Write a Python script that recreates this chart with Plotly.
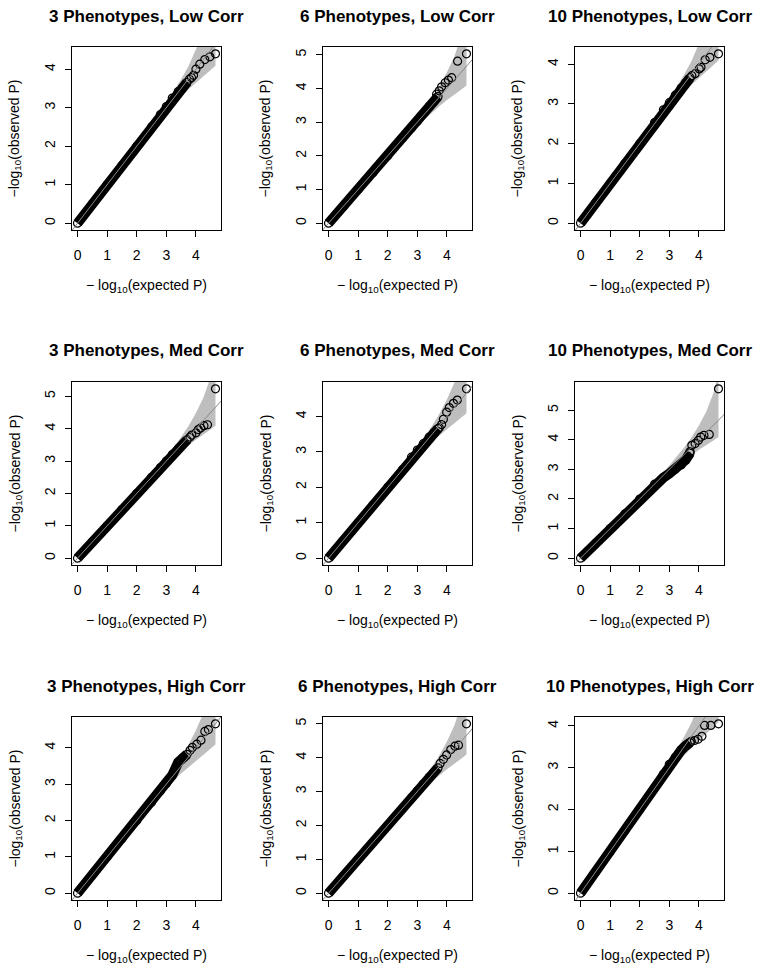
import plotly.graph_objects as go

# ---------------- data ----------------
TITLES = [
    "3 Phenotypes, Low Corr", "6 Phenotypes, Low Corr", "10 Phenotypes, Low Corr",
    "3 Phenotypes, Med Corr", "6 Phenotypes, Med Corr", "10 Phenotypes, Med Corr",
    "3 Phenotypes, High Corr", "6 Phenotypes, High Corr", "10 Phenotypes, High Corr",
]
X_TICKS = [0, 1, 2, 3, 4]

# dense body of each QQ plot (expected -log10 P) and observed values
BULK_X = [0, 0.5, 1.0, 1.5, 2.0, 2.5, 2.8, 3.0, 3.2, 3.4, 3.55, 3.7]
low3_bulk_y = [0, 0.5, 1.0, 1.5, 2.0, 2.5, 2.82, 3.03, 3.25, 3.42, 3.52, 3.66]
low6_bulk_y = [0, 0.5, 1.0, 1.5, 2.0, 2.52, 2.83, 3.03, 3.25, 3.47, 3.6, 3.76]
low10_bulk_y = [0, 0.5, 1.0, 1.5, 2.0, 2.53, 2.85, 3.03, 3.22, 3.4, 3.53, 3.66]
med3_bulk_y = [0, 0.5, 1.0, 1.5, 2.0, 2.5, 2.8, 3.0, 3.2, 3.38, 3.52, 3.65]
med6_bulk_y = [0, 0.5, 1.0, 1.5, 2.0, 2.5, 2.85, 3.05, 3.23, 3.42, 3.54, 3.66]
med10_bulk_y = [0, 0.5, 1.0, 1.5, 2.0, 2.5, 2.72, 2.86, 3.0, 3.15, 3.32, 3.55]
high3_bulk_y = [0, 0.5, 1.0, 1.5, 2.0, 2.5, 2.82, 3.02, 3.25, 3.6, 3.72, 3.82]
high6_bulk_y = [0, 0.5, 1.0, 1.5, 2.0, 2.5, 2.82, 3.02, 3.22, 3.42, 3.56, 3.7]
high10_bulk_y = [0, 0.5, 1.0, 1.5, 2.0, 2.52, 2.85, 3.08, 3.25, 3.42, 3.52, 3.6]

# individually visible top points
low3_tail_x = [3.78, 3.85, 3.92, 4.0, 4.13, 4.3, 4.47, 4.66]
low3_tail_y = [3.74, 3.78, 3.84, 4.0, 4.13, 4.25, 4.32, 4.40]
low6_tail_x = [3.65, 3.74, 3.82, 3.94, 4.05, 4.16, 4.36, 4.66]
low6_tail_y = [3.83, 3.93, 4.05, 4.17, 4.25, 4.32, 4.81, 5.03]
low10_tail_x = [3.76, 3.87, 4.01, 4.07, 4.21, 4.37, 4.66]
low10_tail_y = [3.71, 3.76, 3.88, 3.92, 4.11, 4.17, 4.26]
med3_tail_x = [3.8, 3.86, 4.0, 4.08, 4.16, 4.27, 4.39, 4.66]
med3_tail_y = [3.74, 3.8, 3.87, 3.97, 4.02, 4.09, 4.12, 5.23]
med6_tail_x = [3.74, 3.82, 3.88, 3.99, 4.08, 4.22, 4.35, 4.66]
med6_tail_y = [3.68, 3.77, 3.92, 4.12, 4.25, 4.37, 4.46, 4.78]
med10_tail_x = [3.62, 3.7, 3.76, 3.87, 3.98, 4.06, 4.17, 4.35, 4.66]
med10_tail_y = [3.45, 3.6, 3.81, 3.87, 3.98, 4.09, 4.15, 4.18, 5.72]
high3_tail_x = [3.8, 3.88, 4.03, 4.17, 4.3, 4.42, 4.66]
high3_tail_y = [3.93, 4.01, 4.10, 4.21, 4.45, 4.50, 4.66]
high6_tail_x = [3.77, 3.88, 3.99, 4.13, 4.27, 4.39, 4.66]
high6_tail_y = [3.83, 3.95, 4.08, 4.24, 4.34, 4.37, 5.0]
high10_tail_x = [3.74, 3.85, 3.97, 4.10, 4.19, 4.40, 4.66]
high10_tail_y = [3.63, 3.65, 3.68, 3.75, 4.01, 4.01, 4.05]

# grey confidence band (same for all panels)
BAND_X = [0, 2.0, 2.5, 3.0, 3.25, 3.5, 3.75, 4.0, 4.25, 4.5, 4.66]
BAND_LO = [0, 1.96, 2.43, 2.88, 3.09, 3.29, 3.48, 3.66, 3.83, 3.98, 4.09]
BAND_HI = [0, 2.04, 2.58, 3.13, 3.42, 3.74, 4.08, 4.48, 4.95, 5.6, 6.25]

BULK_Y = [low3_bulk_y, low6_bulk_y, low10_bulk_y,
          med3_bulk_y, med6_bulk_y, med10_bulk_y,
          high3_bulk_y, high6_bulk_y, high10_bulk_y]
TAIL_X = [low3_tail_x, low6_tail_x, low10_tail_x,
          med3_tail_x, med6_tail_x, med10_tail_x,
          high3_tail_x, high6_tail_x, high10_tail_x]
TAIL_Y = [low3_tail_y, low6_tail_y, low10_tail_y,
          med3_tail_y, med6_tail_y, med10_tail_y,
          high3_tail_y, high6_tail_y, high10_tail_y]

# ---------------- layout ----------------
W, H = 760, 969
BOX_LEFT = [72, 323, 575]
BOX_TOP = [47, 382, 717]
BW, BH = 149, 183
FONT = "Liberation Sans, Arial, Helvetica, sans-serif"

fig = go.Figure()
annotations = []

for i in range(9):
    r, c = divmod(i, 3)
    n = i + 1
    sfx = "" if n == 1 else str(n)
    xref, yref = "x" + sfx, "y" + sfx

    xmax = max(TAIL_X[i])
    ymax = max(TAIL_Y[i])
    xr = [-0.04 * xmax, 1.04 * xmax]
    yr = [-0.04 * ymax, 1.04 * ymax]

    # band
    fig.add_trace(go.Scatter(
        x=BAND_X + BAND_X[::-1], y=BAND_HI + BAND_LO[::-1],
        fill="toself", fillcolor="#bebebe", line=dict(width=0),
        mode="lines", hoverinfo="skip", showlegend=False,
        xaxis=xref, yaxis=yref))
    # dense body
    fig.add_trace(go.Scatter(
        x=BULK_X, y=BULK_Y[i], mode="lines+markers",
        line=dict(color="black", width=10),
        marker=dict(symbol="circle-open", size=8, color="black", line=dict(width=1.2)),
        showlegend=False, xaxis=xref, yaxis=yref))
    # tail points
    fig.add_trace(go.Scatter(
        x=TAIL_X[i], y=TAIL_Y[i], mode="markers",
        marker=dict(symbol="circle-open", size=8, color="black", line=dict(width=1.2)),
        showlegend=False, xaxis=xref, yaxis=yref))
    # identity line
    fig.add_trace(go.Scatter(
        x=[-1, 8], y=[-1, 8], mode="lines",
        line=dict(color="#8a8a8a", width=1),
        hoverinfo="skip", showlegend=False, xaxis=xref, yaxis=yref))

    x0 = BOX_LEFT[c] / W
    x1 = (BOX_LEFT[c] + BW) / W
    y1 = 1 - BOX_TOP[r] / H
    y0 = 1 - (BOX_TOP[r] + BH) / H

    common = dict(showgrid=False, zeroline=False, showline=True, mirror=True,
                  linecolor="black", linewidth=1, ticks="outside", ticklen=6,
                  tickwidth=1, tickcolor="black",
                  tickfont=dict(family=FONT, size=14, color="black"))
    fig.update_layout({
        "xaxis" + sfx: dict(domain=[x0, x1], range=xr, anchor=yref,
                            tickvals=X_TICKS, ticklabelstandoff=6, **common),
        "yaxis" + sfx: dict(domain=[y0, y1], range=yr, anchor=xref,
                            tickvals=list(range(0, int(ymax) + 1)),
                            tickangle=-90, ticklabelstandoff=4, **common),
    })

    cx = (BOX_LEFT[c] + BW / 2) / W
    # title
    annotations.append(dict(
        text="<b>" + TITLES[i] + "</b>", x=cx, y=1 - (BOX_TOP[r] - 31) / H,
        xref="paper", yref="paper", showarrow=False, xanchor="center", yanchor="middle",
        font=dict(family=FONT, size=17, color="black")))
    # x-axis title
    annotations.append(dict(
        text="\u2212 log<sub>10</sub>(expected P)", x=cx,
        y=1 - (BOX_TOP[r] + BH + 56) / H,
        xref="paper", yref="paper", showarrow=False, xanchor="center", yanchor="middle",
        font=dict(family=FONT, size=14, color="black")))
    # y-axis title
    annotations.append(dict(
        text="\u2212log<sub>10</sub>(observed P)", x=(BOX_LEFT[c] - 57) / W,
        y=1 - (BOX_TOP[r] + BH / 2) / H,
        xref="paper", yref="paper", showarrow=False, xanchor="center", yanchor="middle",
        textangle=-90, font=dict(family=FONT, size=14, color="black")))

fig.update_layout(
    width=W, height=H, margin=dict(l=0, r=0, t=0, b=0),
    paper_bgcolor="white", plot_bgcolor="white",
    annotations=annotations, showlegend=False,
)

fig.write_html("out.html", config={"displayModeBar": False},
               post_script="document.body.style.margin='0';document.body.style.padding='0';")
